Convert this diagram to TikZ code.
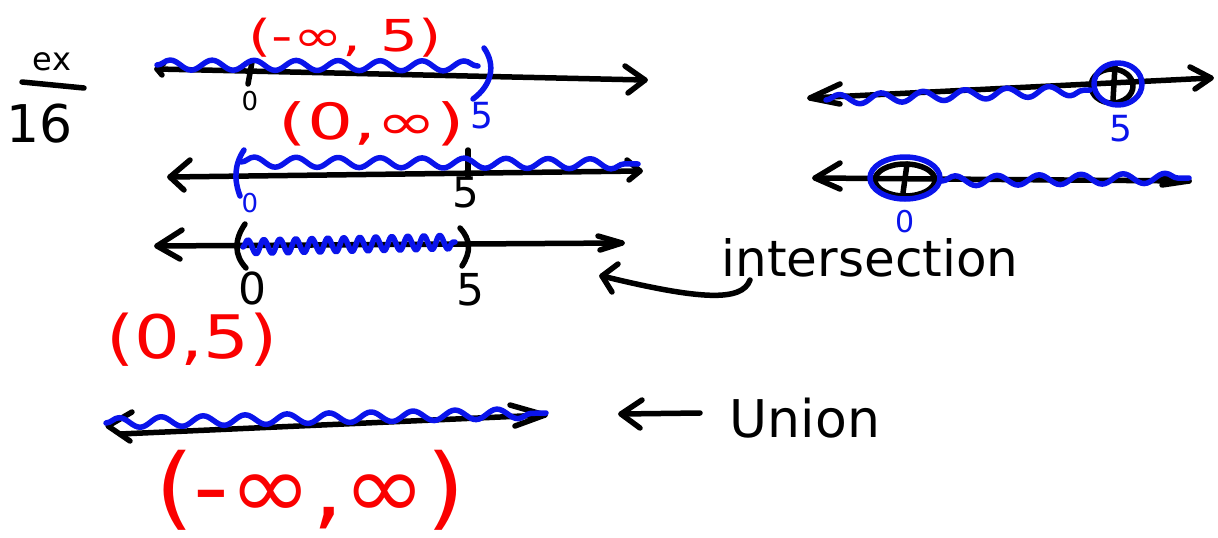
\documentclass[tikz,border=0pt]{standalone}
\usepackage{fontspec}
\setmainfont{DejaVu Sans}
\usetikzlibrary{decorations.pathmorphing}
\definecolor{inkblue}{RGB}{10,20,235}
\definecolor{inkred}{RGB}{250,0,0}
\tikzset{
  pen/.style={line width=5.5pt, line cap=round, line join=round},
  blk/.style={pen, black},
  blu/.style={pen, inkblue},
  wavy/.style={blu, decorate, decoration={snake, segment length=42pt, amplitude=5pt}},
  zigzag/.style={blu, decorate, decoration={snake, segment length=16pt, amplitude=7pt}},
  txt/.style={inner sep=0pt, anchor=center},
  fs/.style={font=\fontsize{#1}{#1}\selectfont}
}
\begin{document}
\begin{tikzpicture}[x=1pt, y=-1pt]
\useasboundingbox (0,0) rectangle (1218,538);

% ---- ex over 16 ----
\node[txt, fs=32] (ex) at (52,62) {ex};
\coordinate (barL) at (22,82);
\coordinate (barR) at (84,88);
\draw[blk] (barL) -- (barR);
\node[txt, fs=52] (sixteen) at (40,124) {16};

% ---- line 1: (-inf, 5) ----
\coordinate (l1a) at (157,69);
\coordinate (l1b) at (645,80);
\draw[blk] (l1a) -- (l1b);
\draw[blk] (625,66) -- (l1b) -- (628,93);
\draw[blk] (164,63) -- (l1a) -- (162,75);
\draw[blk] (252,62) -- (248,84);
\node[txt, fs=26] (z1) at (250,101) {0};
\draw[wavy] (157,65) -- (478,66);
\draw[blu] (484,48) .. controls (496,65) and (492,85) .. (473,99);
\node[txt, fs=36, text=inkblue] (f1) at (482,116) {5};
\node[txt, fs=44, xscale=1.35, text=inkred] (int1) at (345,38) {(-∞, 5)};

% ---- line 2: (0, inf) ----
\node[txt, fs=50, xscale=1.45, text=inkred] (int2) at (372,124) {(0,∞)};
\coordinate (l2a) at (170,177);
\coordinate (l2b) at (640,171);
\draw[blk] (l2a) -- (l2b);
\draw[blk] (190,160) -- (l2a) -- (184,190);
\draw[blk] (627,160) -- (l2b) -- (629,180);
\draw[blk] (468,150) -- (468,176);
\node[txt, fs=42] (f2) at (466,192) {5};
\draw[blu] (244,150) .. controls (234,165) and (234,180) .. (240,196);
\node[txt, fs=26, text=inkblue] (z2) at (250,203) {0};
\draw[wavy] (241,162) -- (638,164);

% ---- line 3: intersection (0, 5) ----
\coordinate (l3a) at (157,246);
\coordinate (l3b) at (622,243);
\draw[blk] (l3a) -- (l3b);
\draw[blk] (182,230) -- (l3a) -- (180,259);
\draw[blk] (598,236) -- (l3b) -- (600,250);
\draw[blk] (245,224) .. controls (234,240) and (234,255) .. (246,268);
\draw[blk] (460,228) .. controls (471,240) and (471,252) .. (462,266);
\draw[zigzag] (243,247) -- (455,242);
\node[txt, fs=44] (z3) at (252,288) {0};
\node[txt, fs=44] (f3) at (470,290) {5};
\node[txt, fs=60, xscale=1.2, text=inkred] (int3) at (192,340) {(0,5)};

% ---- intersection label and arrow ----
\node[txt, fs=50] (inter) at (870,258) {intersection};
\coordinate (iStart) at (750,280);
\coordinate (iEnd) at (602,276);
\draw[blk] (iStart) .. controls (742,302) and (700,300) .. (iEnd);
\draw[blk] (618,264) -- (iEnd) -- (612,292);

% ---- right: x < 5 ----
\coordinate (raA) at (810,98);
\coordinate (raB) at (1211,78);
\draw[blk] (raA) -- (raB);
\draw[blk] (840,84) -- (raA) -- (840,104);
\draw[blk] (1190,67) -- (raB) -- (1195,89);
\draw[blk] (1112,86) ellipse [x radius=21, y radius=17];
\draw[blk] (1115,66) -- (1113,100);
\draw[wavy] (826,100) -- (1090,90);
\draw[blu] (1118,84) ellipse [x radius=24, y radius=21];
\node[txt, fs=36, text=inkblue] (f4) at (1121,129) {5};

% ---- right: x > 0 ----
\coordinate (rbA) at (815,178);
\coordinate (rbB) at (1189,181);
\draw[blk] (rbA) -- (rbB);
\draw[blk] (840,163) -- (rbA) -- (840,189);
\draw[blk] (1162,176) -- (rbB) -- (1162,185);
\draw[blk] (905,180) ellipse [x radius=30, y radius=16];
\draw[blk] (907,164) -- (903,193);
\draw[blu] (905,178) ellipse [x radius=35, y radius=21];
\draw[wavy] (942,181) -- (1189,178);
\node[txt, fs=30, text=inkblue] (z4) at (905,222) {0};

% ---- union ----
\coordinate (uA) at (108,426);
\coordinate (uB) at (545,415);
\draw[blk] (120,434) -- (uB);
\draw[blk] (132,412) -- (uA) -- (130,441);
\draw[blk] (510,405) -- (uB) -- (515,426);
\draw[wavy] (106,423) -- (546,413);
\node[txt, fs=52] (union) at (805,418) {Union};
\coordinate (uArrS) at (700,413);
\coordinate (uArrE) at (621,414);
\draw[blk] (uArrS) -- (uArrE);
\draw[blk] (642,400) -- (uArrE) -- (640,428);
\node[txt, fs=90, xscale=1.1, text=inkred] (int4) at (310,490) {(-∞,∞)};
\end{tikzpicture}
\end{document}
